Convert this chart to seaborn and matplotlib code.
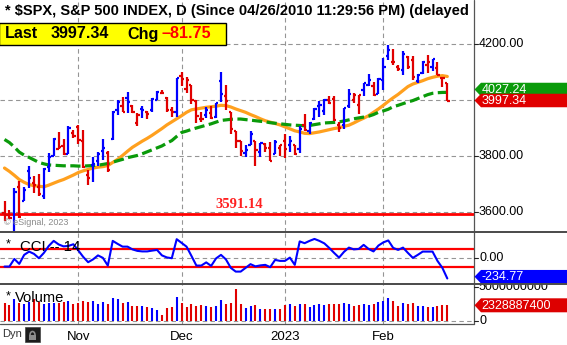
import matplotlib
matplotlib.use("Agg")
import matplotlib.pyplot as plt
import seaborn as sns
import numpy as np
import pandas as pd
from matplotlib.patches import Polygon, Rectangle, Arc
from matplotlib.lines import Line2D
from matplotlib.transforms import Bbox, TransformedBbox

sns.set_theme(style="white")
plt.rcParams["font.family"] = ["Liberation Sans", "DejaVu Sans"]

# ---------------- data ----------------
dates = ["10-11", "10-12", "10-13", "10-14", "10-17", "10-18", "10-19", "10-20", "10-21",
         "10-24", "10-25", "10-26", "10-27", "10-28", "10-31",
         "11-01", "11-02", "11-03", "11-04", "11-07", "11-08", "11-09", "11-10", "11-11",
         "11-14", "11-15", "11-16", "11-17", "11-18", "11-21", "11-22", "11-23", "11-25",
         "11-28", "11-29", "11-30",
         "12-01", "12-02", "12-05", "12-06", "12-07", "12-08", "12-09", "12-12", "12-13",
         "12-14", "12-15", "12-16", "12-19", "12-20", "12-21", "12-22", "12-23", "12-27",
         "12-28", "12-29", "12-30",
         "01-03", "01-04", "01-05", "01-06", "01-09", "01-10", "01-11", "01-12", "01-13",
         "01-17", "01-18", "01-19", "01-20", "01-23", "01-24", "01-25", "01-26", "01-27",
         "01-30", "01-31",
         "02-01", "02-02", "02-03", "02-06", "02-07", "02-08", "02-09", "02-10", "02-13",
         "02-14", "02-15", "02-16", "02-17", "02-21"]

opens = [3595.86, 3590.83, 3520.37, 3690.41, 3638.65, 3746.26, 3703.11, 3689.05, 3657.10,
         3762.01, 3799.44, 3825.97, 3834.69, 3808.26, 3881.85,
         3901.79, 3852.90, 3733.25, 3766.98, 3780.71, 3817.02, 3810.94, 3859.89, 3963.72,
         3977.97, 4006.41, 3976.82, 3919.26, 3966.39, 3956.23, 3965.51, 4000.30, 4023.34,
         4005.36, 3964.19, 3957.18,
         4087.14, 4040.17, 4052.02, 3996.63, 3933.28, 3947.79, 3954.17, 3939.29, 4069.38,
         4015.54, 3958.37, 3890.91, 3853.79, 3810.47, 3839.49, 3853.26, 3815.11, 3843.34,
         3829.56, 3805.45, 3829.06,
         3853.29, 3840.36, 3839.74, 3823.37, 3910.82, 3888.57, 3932.35, 3977.57, 3960.60,
         3999.28, 4002.25, 3911.84, 3909.04, 3978.14, 4001.74, 3982.71, 4036.08, 4053.72,
         4049.27, 4020.85,
         4070.07, 4158.68, 4136.69, 4119.57, 4105.35, 4153.47, 4144.25, 4068.92, 4096.62,
         4126.70, 4119.50, 4114.75, 4077.39, 4060.79]

highs = [3640.66, 3608.34, 3685.41, 3712.00, 3689.73, 3762.79, 3728.58, 3736.00, 3757.89,
         3810.74, 3862.85, 3886.15, 3859.95, 3905.42, 3893.73,
         3911.79, 3894.44, 3750.59, 3796.34, 3813.95, 3859.40, 3818.20, 3959.37, 4001.48,
         4008.97, 4028.84, 3983.09, 3954.33, 3979.89, 3962.00, 4005.88, 4033.78, 4034.02,
         4012.27, 3976.77, 4080.11,
         4100.51, 4080.48, 4052.45, 4001.51, 3957.57, 3974.19, 3977.02, 3990.71, 4100.96,
         4053.76, 3958.37, 3890.91, 3854.86, 3838.24, 3889.82, 3853.26, 3845.80, 3846.65,
         3848.32, 3858.19, 3839.85,
         3878.46, 3873.16, 3839.74, 3906.19, 3950.57, 3919.83, 3970.07, 3997.76, 4003.95,
         4015.39, 4014.16, 3922.94, 3972.96, 4039.31, 4023.92, 4019.55, 4061.57, 4094.21,
         4063.85, 4077.16,
         4148.95, 4195.44, 4182.36, 4124.63, 4176.54, 4156.85, 4156.23, 4094.36, 4138.90,
         4159.77, 4148.11, 4136.54, 4081.51, 4060.79]

lows = [3568.45, 3573.86, 3491.58, 3579.68, 3638.65, 3686.53, 3666.51, 3656.44, 3647.42,
        3741.65, 3799.44, 3824.07, 3803.79, 3808.26, 3863.18,
        3843.80, 3758.68, 3698.15, 3708.84, 3764.70, 3786.28, 3744.22, 3856.98, 3944.82,
        3956.40, 3953.17, 3954.34, 3906.54, 3935.98, 3933.34, 3956.88, 3998.66, 4020.76,
        3955.77, 3937.65, 3938.58,
        4050.87, 4026.63, 3984.49, 3918.39, 3922.68, 3935.83, 3933.04, 3935.30, 3993.03,
        3965.65, 3879.45, 3827.91, 3800.04, 3795.62, 3839.49, 3764.49, 3797.01, 3813.22,
        3780.78, 3805.45, 3800.34,
        3794.33, 3815.77, 3802.42, 3809.56, 3890.42, 3877.29, 3928.54, 3937.56, 3947.67,
        3984.57, 3926.59, 3885.54, 3897.86, 3971.64, 3989.79, 3949.06, 4013.29, 4048.70,
        4015.55, 4020.44,
        4037.20, 4141.88, 4123.36, 4103.98, 4088.39, 4111.67, 4069.67, 4060.79, 4092.67,
        4095.01, 4103.98, 4089.49, 4047.95, 3995.19]

closes = [3588.84, 3577.03, 3669.91, 3583.07, 3677.95, 3719.98, 3695.16, 3665.78, 3752.75,
          3797.34, 3859.11, 3830.60, 3807.30, 3901.06, 3871.98,
          3856.10, 3759.69, 3719.89, 3770.55, 3806.80, 3828.11, 3748.57, 3956.37, 3992.93,
          3957.25, 3991.73, 3958.79, 3946.56, 3965.34, 3949.94, 4003.58, 4027.26, 4026.12,
          3963.94, 3957.63, 4080.11,
          4076.57, 4071.70, 3998.84, 3941.26, 3933.92, 3963.51, 3934.38, 3990.56, 4019.65,
          3995.32, 3895.75, 3852.36, 3817.66, 3821.62, 3878.44, 3822.39, 3844.82, 3829.25,
          3783.22, 3849.28, 3839.50,
          3824.14, 3852.97, 3808.10, 3895.08, 3892.09, 3919.25, 3969.61, 3983.17, 3999.09,
          3990.97, 3928.86, 3898.85, 3972.61, 4019.81, 4016.95, 4016.22, 4060.43, 4070.56,
          4017.77, 4076.60,
          4119.21, 4179.76, 4136.48, 4111.08, 4164.00, 4117.86, 4081.50, 4090.46, 4137.29,
          4136.13, 4147.60, 4090.41, 4079.09, 3997.34]
prior_close = 3612.39

ma_fast = [3757, 3745, 3731, 3716, 3706, 3698, 3694, 3692, 3690, 3696, 3703, 3710, 3716,
           3724, 3732, 3741, 3747, 3752, 3757, 3760, 3762, 3766, 3777, 3788, 3802, 3817,
           3831, 3842, 3853, 3863, 3874, 3886, 3898, 3911, 3922, 3933, 3944, 3956, 3965,
           3968, 3971, 3974, 3976, 3978, 3981, 3980, 3975, 3968, 3962, 3956, 3948, 3941,
           3933, 3926, 3921, 3916, 3911, 3904, 3897, 3890, 3886, 3881, 3880, 3883, 3886,
           3890, 3894, 3898, 3901, 3906, 3910, 3918, 3927, 3935, 3944, 3956, 3968, 3981,
           3995, 4008, 4020, 4034, 4048, 4057, 4063, 4069, 4076, 4081, 4085, 4087, 4084]

ma_slow = [3859, 3848, 3832, 3814, 3803, 3795, 3786, 3777, 3772, 3768, 3767, 3766, 3765,
           3765, 3765, 3764, 3764, 3765, 3766, 3767, 3770, 3773, 3778, 3783, 3788, 3794,
           3798, 3802, 3808, 3815, 3822, 3829, 3836, 3846, 3855, 3870, 3884, 3889, 3895,
           3900, 3905, 3910, 3915, 3921, 3927, 3929, 3931, 3932, 3932, 3930, 3928, 3926,
           3924, 3922, 3919, 3917, 3915, 3913, 3911, 3910, 3909, 3908, 3909, 3912, 3915,
           3918, 3919, 3920, 3922, 3925, 3929, 3933, 3936, 3939, 3942, 3948, 3956, 3961,
           3967, 3976, 3981, 3987, 3993, 3998, 4005, 4012, 4019, 4024, 4026, 4027, 4027.24]

cci = [-100, -100, -14, -70, 32, 69, 43, -6, 54, 133, 190, 150, 128, 133, 152, 82, 9,
       -51, -19, 26, -2, -89, 190, 156, 125, 125, 94, 77, 71, 71, 80, 88, 26, 3, -6, 209,
       167, 125, 20, -89, -89, -53, -93, -8, 32, -19, -115, -157, -157, -115, -73, -98,
       -87, -81, -107, -25, -36, -36, 1, -81, 184, 164, 190, 212, 190, 162, 111, 54, 1,
       66, 114, 94, 99, 145, 99, 71, 137, 173, 195, 111, 88, 114, 54, -2, 32, 69, 69, 69,
       -36, -115, -234.77]

volume = [2.60e9, 2.35e9, 3.24e9, 2.60e9, 2.45e9, 2.75e9, 3.24e9, 2.75e9, 2.45e9, 2.60e9,
          2.60e9, 2.60e9, 2.75e9, 2.94e9, 2.45e9, 2.60e9, 2.94e9, 2.75e9, 2.94e9, 2.45e9,
          2.75e9, 2.45e9, 3.43e9, 3.24e9, 2.60e9, 2.75e9, 2.25e9, 2.25e9, 2.25e9, 2.10e9,
          1.87e9, 1.62e9, 0.88e9, 1.96e9, 2.10e9, 3.58e9, 2.60e9, 2.10e9, 2.45e9, 2.25e9,
          2.35e9, 2.25e9, 2.10e9, 2.25e9, 3.09e9, 2.45e9, 2.60e9, 4.70e9, 2.45e9, 1.96e9,
          2.25e9, 2.35e9, 1.76e9, 1.76e9, 1.76e9, 1.76e9, 1.76e9, 2.35e9, 2.45e9, 2.25e9,
          2.45e9, 2.45e9, 2.10e9, 2.35e9, 2.45e9, 2.35e9, 2.45e9, 2.45e9, 2.45e9, 2.60e9,
          2.45e9, 2.25e9, 2.35e9, 2.45e9, 2.35e9, 2.45e9, 2.84e9, 2.94e9, 3.43e9, 2.94e9,
          2.25e9, 2.60e9, 2.45e9, 2.60e9, 2.25e9, 2.25e9, 2.10e9, 2.10e9, 2.25e9, 2.35e9,
          2328887400]

support_level = 3591.14
price_ticks = [3600, 3800, 4000, 4200]
cci_bands = [100, -100]
month_labels = ["Nov", "Dec", "2023", "Feb"]
month_starts = ["11-01", "12-01", "01-03", "02-01"]

title = "* $SPX, S&P 500 INDEX, D (Since 04/26/2010 11:29:56 PM) (delayed"

# ---------------- styling ----------------
BLUE = "#0000ff"
RED = "#e00000"
ORANGE = "#ffa01e"
GREEN = "#0a9a0a"
GRID = "#959595"
FRAME = "#555555"

W, H = 567, 345
PLOT_R = 474
X0, STEP = 4.5, 4.92

fig = plt.figure(figsize=(W / 100, H / 100), dpi=100)
fig.patch.set_facecolor("white")


def fx(x):
    return x / W


def fy(y):
    return 1 - y / H


def add_panel(top, bottom):
    ax = fig.add_axes([0, fy(bottom), PLOT_R / W, (bottom - top) / H])
    ax.set_xlim(-X0 / STEP, (PLOT_R - X0) / STEP)
    ax.set_facecolor("white")
    for s in ax.spines.values():
        s.set_visible(False)
    ax.set_xticks([])
    ax.set_yticks([])
    ax.grid(False)
    return ax


df = pd.DataFrame({"date": dates, "open": opens, "high": highs, "low": lows,
                   "close": closes, "ma_fast": ma_fast, "ma_slow": ma_slow,
                   "cci": cci, "volume": volume})
df["i"] = np.arange(len(df))
prev = np.r_[prior_close, df["close"].values[:-1]]
df["color"] = np.where(df["close"].values > prev, BLUE, RED)
month_idx = [dates.index(d) for d in month_starts]

dash = (0, (4, 3))

# ---------------- price panel ----------------
ax_p = add_panel(0, 232)
ax_p.set_ylim(3528.6, 4357.1)
for lvl in price_ticks:
    ax_p.axhline(lvl, color=GRID, lw=0.8, ls=dash, zorder=1)
for m in month_idx:
    ax_p.axvline(m, color=GRID, lw=0.8, ls=dash, zorder=1)
ax_p.axhline(support_level, color="#ff0000", lw=2.0, zorder=2)

sns.lineplot(data=df, x="i", y="ma_fast", ax=ax_p, color=ORANGE, lw=2.3, zorder=3,
             legend=False)
sns.lineplot(data=df, x="i", y="ma_slow", ax=ax_p, color=GREEN, lw=2.3, zorder=3,
             legend=False, dashes=False)
ax_p.lines[-1].set_linestyle((0, (3.2, 1.4)))

tick = 0.45
ax_p.vlines(df["i"], df["low"], df["high"], colors=df["color"], lw=1.6, zorder=4)
ax_p.hlines(df["open"], df["i"] - tick, df["i"], colors=df["color"], lw=1.6, zorder=4)
ax_p.hlines(df["close"], df["i"], df["i"] + tick, colors=df["color"], lw=1.6, zorder=4)
ax_p.set_xlabel("")
ax_p.set_ylabel("")

ax_p.text(239 / STEP - X0 / STEP, support_level + 12, f"{support_level:.2f}",
          color="#ff2020", fontsize=10.5, fontweight="bold", family="Liberation Serif",
          ha="center", va="bottom", zorder=5)
ax_p.text(0.008, 0.02, "\u00a9 eSignal, 2023", transform=ax_p.transAxes,
          fontsize=6.5, color="#8a8a8a", ha="left", va="bottom", zorder=5)

# ---------------- CCI panel ----------------
ax_c = add_panel(232, 284)
ax_c.set_ylim(-297.2, 290.4)
ax_c.axhline(0, color=GRID, lw=0.8, ls=dash, zorder=1)
for m in month_idx:
    ax_c.axvline(m, color=GRID, lw=0.8, ls=dash, zorder=1)
for b in cci_bands:
    ax_c.axhline(b, color="#ff0000", lw=1.6, zorder=2)
sns.lineplot(data=df, x="i", y="cci", ax=ax_c, color=BLUE, lw=1.5, zorder=3, legend=False)
ax_c.set_xlabel("")
ax_c.set_ylabel("")

# ---------------- volume panel ----------------
ax_v = add_panel(284, 324)
ax_v.set_ylim(-0.44e9, 5.44e9)
ax_v.axhline(0, color=GRID, lw=0.8, ls=dash, zorder=1)
for m in month_idx:
    ax_v.axvline(m, color=GRID, lw=0.8, ls=dash, zorder=1)
ax_v.vlines(df["i"], 0, df["volume"], colors=df["color"], lw=1.5, zorder=3)

# ---------------- frame lines ----------------
def fig_line(x0, y0, x1, y1, **kw):
    fig.add_artist(Line2D([fx(x0), fx(x1)], [fy(y0), fy(y1)], **kw))


fig_line(PLOT_R, 0, PLOT_R, 324, color=FRAME, lw=0.9)
fig_line(0, 324, PLOT_R, 324, color=FRAME, lw=0.9)

# ---------------- right-hand scale ----------------
def price_y(v):
    return 44 + (4200 - v) * 0.28


def right_label(y, text, clip=None):
    fig_line(PLOT_R, y, PLOT_R + 4, y, color="#222222", lw=0.8)
    t = fig.text(fx(PLOT_R + 5), fy(y), text, fontsize=9, color="black",
                 ha="left", va="center")
    if clip is not None:
        t.set_clip_box(TransformedBbox(Bbox([[fx(PLOT_R), fy(clip[1])],
                                             [1, fy(clip[0])]]), fig.transFigure))
        t.set_clip_on(True)


for lvl in price_ticks:
    right_label(price_y(lvl), f"{lvl:.2f}")
right_label(257.7, "0.00")
right_label(287, "5000000000", clip=(284, 324))
right_label(321, "0", clip=(284, 324))


def tag(yc, text, color, h=13.5):
    top, bot = yc - h / 2, yc + h / 2
    pts = [(PLOT_R + 0.5, yc), (PLOT_R + 7, top), (W + 2, top), (W + 2, bot), (PLOT_R + 7, bot)]
    fig.add_artist(Polygon([(fx(x), fy(y)) for x, y in pts], closed=True,
                           facecolor=color, edgecolor="none", zorder=10))
    fig.text(fx(PLOT_R + 7.5), fy(yc + 0.5), text, fontsize=9, color="white",
             ha="left", va="center", zorder=11)


tag(89.5, f"{ma_slow[-1]:.2f}", "#0a9a0a")
tag(100.5, f"{closes[-1]:.2f}", "#e00000")
tag(276.7, f"{cci[-1]:.2f}", "#0000ff")
tag(305.3, f"{int(volume[-1])}", "#dd0000", h=14)

# panel separators
fig_line(0, 232, W, 232, color="#4a4a4a", lw=1.4, zorder=12)
fig_line(0, 284, W, 284, color="#4a4a4a", lw=1.4, zorder=12)

# ---------------- header ----------------
fig.text(fx(5), fy(11.5), title, fontsize=10.5, fontweight="bold", color="black",
         ha="left", va="center")
fig.add_artist(Rectangle((fx(-1), fy(45)), fx(227), (45 - 23) / H,
                         facecolor="#ffff00", edgecolor="black", lw=1.0, zorder=9))
for x, txt, col in [(5, "Last", "black"), (50.5, f"{closes[-1]:.2f}", "black"),
                    (127, "Chg", "black"),
                    (161.5, "\u2013" + f"{abs(closes[-1] - closes[-2]):.2f}", "#ff0000")]:
    fig.text(fx(x), fy(34), txt, fontsize=11.6, fontweight="bold", color=col,
             ha="left", va="center", zorder=10)

# panel titles
fig.text(fx(6), fy(244), "*", fontsize=9, color="black", ha="left", va="center")
fig.text(fx(19.5), fy(247), "CCI -- 14", fontsize=10.8, color="black", ha="left",
         va="center")
fig.text(fx(6), fy(296), "*", fontsize=9, color="black", ha="left", va="center")
fig.text(fx(15), fy(298.5), "Volume", fontsize=10.6, color="black", ha="left",
         va="center")

# ---------------- date axis ----------------
for m, lab in zip(month_idx, month_labels):
    fig.text(fx(X0 + STEP * m), fy(336.5), lab, fontsize=9.5, color="black",
             ha="center", va="center")

fig.text(fx(2.5), fy(334), "Dyn", fontsize=8, color="#333333", ha="left", va="center")
fig.add_artist(Rectangle((fx(25), fy(342)), 15 / W, 15 / H, facecolor="#1c1c1c",
                         edgecolor="#444444", lw=0.5))
fig.add_artist(Rectangle((fx(29), fy(340)), 7 / W, 5 / H, facecolor="#8c8c8c",
                         edgecolor="none"))
fig.add_artist(Arc((fx(32.5), fy(335)), 5 / W, 7 / H, theta1=0, theta2=180,
                   color="#8c8c8c", lw=1.2))

fig.savefig("out.png", dpi=100, facecolor="white")
